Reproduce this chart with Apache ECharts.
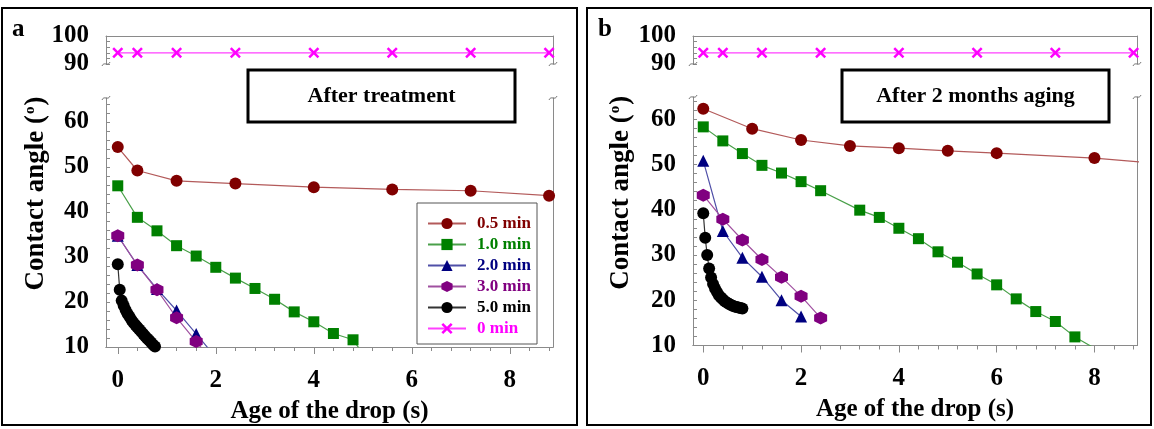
<!DOCTYPE html>
<html>
<head>
<meta charset="utf-8">
<script src="https://cdn.jsdelivr.net/npm/echarts@6/dist/echarts.min.js"></script>
<style>
html,body{margin:0;padding:0;background:#fff;}
#chart{width:1154px;height:429px;}
</style>
</head>
<body>
<div id="chart"></div>
<script>
// ---------------- data: contact angle (deg) vs age of the drop (s) ----------------
const seriesNames = ['0.5 min', '1.0 min', '2.0 min', '3.0 min', '5.0 min', '0 min'];

// (a) after treatment
const aTime05  = [0, 0.4, 1.2, 2.4, 4.0, 5.6, 7.2, 8.8];
const aAngle05 = [54.4, 49.2, 46.9, 46.3, 45.5, 45.0, 44.7, 43.6];
const aTime10  = [0, 0.4, 0.8, 1.2, 1.6, 2.0, 2.4, 2.8, 3.2, 3.6, 4.0, 4.4, 4.8, 5.2];
const aAngle10 = [45.8, 38.8, 35.8, 32.5, 30.2, 27.7, 25.3, 23.0, 20.6, 17.8, 15.6, 13.0, 11.6, 5.5];
const aTime20  = [0, 0.4, 0.8, 1.2, 1.6, 2.0];
const aAngle20 = [34.7, 28.2, 22.9, 18.1, 12.9, 7.7];
const aTime30  = [0, 0.4, 0.8, 1.2, 1.6, 2.0];
const aAngle30 = [34.7, 28.2, 22.7, 16.5, 11.2, 6.0];
const aTime50  = [0, 0.04, 0.08, 0.12, 0.16, 0.20, 0.24, 0.28, 0.32, 0.36, 0.40, 0.44, 0.48, 0.52, 0.56, 0.60, 0.64, 0.68, 0.72, 0.76];
const aAngle50 = [28.4, 22.7, 20.3, 19.2, 18.2, 17.4, 16.7, 16.0, 15.4, 14.9, 14.4, 13.9, 13.4, 12.9, 12.4, 11.9, 11.5, 11.0, 10.5, 10.1];
const aTime00  = [0, 0.4, 1.2, 2.4, 4.0, 5.6, 7.2, 8.8];
const aAngle00 = [94, 94, 94, 94, 94, 94, 94, 94];

// (b) after 2 months aging
const bTime05  = [0, 1, 2, 3, 4, 5, 6, 8, 10];
const bAngle05 = [62.3, 57.9, 55.4, 54.1, 53.6, 53.0, 52.5, 51.4, 49.6];
const bTime10  = [0, 0.4, 0.8, 1.2, 1.6, 2.0, 2.4, 3.2, 3.6, 4.0, 4.4, 4.8, 5.2, 5.6, 6.0, 6.4, 6.8, 7.2, 7.6, 8.0];
const bAngle10 = [58.3, 55.2, 52.4, 49.8, 48.1, 46.2, 44.2, 39.9, 38.3, 35.9, 33.6, 30.7, 28.4, 25.8, 23.4, 20.3, 17.5, 15.3, 11.9, 9.4];
const bTime20  = [0, 0.4, 0.8, 1.2, 1.6, 2.0];
const bAngle20 = [50.8, 35.3, 29.4, 25.2, 20.0, 16.4];
const bTime30  = [0, 0.4, 0.8, 1.2, 1.6, 2.0, 2.4];
const bAngle30 = [43.2, 37.9, 33.3, 29.0, 25.1, 20.9, 16.1];
const bTime50  = [0, 0.04, 0.08, 0.12, 0.16, 0.20, 0.24, 0.28, 0.32, 0.36, 0.40, 0.44, 0.48, 0.52, 0.56, 0.60, 0.64, 0.68, 0.72, 0.76, 0.80];
const bAngle50 = [39.2, 33.8, 30.0, 27.0, 25.0, 23.6, 22.6, 21.8, 21.1, 20.6, 20.2, 19.8, 19.5, 19.2, 19.0, 18.8, 18.6, 18.5, 18.4, 18.3, 18.2];
const bTime00  = [0, 0.4, 1.2, 2.4, 4.0, 5.6, 7.2, 8.8];
const bAngle00 = [94, 94, 94, 94, 94, 94, 94, 94];

// tick values
const xMajorTicks = [0, 2, 4, 6, 8];
const xMinorTicks = [0, 0.4, 0.8, 1.2, 1.6, 2, 2.4, 2.8, 3.2, 3.6, 4, 4.4, 4.8, 5.2, 5.6, 6, 6.4, 6.8, 7.2, 7.6, 8, 8.4, 8.8];
const yLowMajorTicks = [10, 20, 30, 40, 50, 60];
const yLowMinorTicks = [10, 12, 14, 16, 18, 20, 22, 24, 26, 28, 30, 32, 34, 36, 38, 40, 42, 44, 46, 48, 50, 52, 54, 56, 58, 60, 62, 64];
const yUpMajorTicks = [90, 100];
const yUpMinorTicks = [90, 92, 94, 96, 98, 100];

const panelTitles = ['After treatment', 'After 2 months aging'];
const panelTags = ['a', 'b'];
const xTitle = 'Age of the drop (s)';

// ---------------- styling ----------------
const FONT = '"Liberation Serif", "Times New Roman", serif';
const AX = '#8a8a8a';
const colors = ['#800000', '#008000', '#000080', '#800080', '#000000', '#ff00ff'];
const lineColors = ['#b35a5a', '#4aa04a', '#5050a8', '#a050a0', '#333333', '#ff40ff'];
const HEX = 'path://M0.5,0 L0.933,0.25 L0.933,0.75 L0.5,1 L0.067,0.75 L0.067,0.25 Z';
const XSYM = 'path://M0,0.16 L0.16,0 L0.5,0.34 L0.84,0 L1,0.16 L0.66,0.5 L1,0.84 L0.84,1 L0.5,0.66 L0.16,1 L0,0.84 L0.34,0.5 Z';
const symbols = ['circle', 'rect', 'triangle', HEX, 'circle', XSYM];
const symbolSizes = [12, 11, 12, 13, 12, 11];

const panels = [
  {left: 106, right: 553, upTop: 36, upBot: 64, lowTop: 98, lowBot: 347, x: [-0.24, 8.88], yLow: [10, 65.3],
   frame: [2, 8, 575, 417], tag: [12, 17], box: [248, 70, 267, 52], yTitleX: 36,
   data: [[aTime05, aAngle05], [aTime10, aAngle10], [aTime20, aAngle20], [aTime30, aAngle30], [aTime50, aAngle50], [aTime00, aAngle00]]},
  {left: 693, right: 1137, upTop: 36, upBot: 64, lowTop: 97, lowBot: 345.5, x: [-0.21, 8.87], yLow: [10, 64.9],
   frame: [587, 8, 564, 417], tag: [598, 17], box: [842, 70, 267, 52], yTitleX: 621,
   data: [[bTime05, bAngle05], [bTime10, bAngle10], [bTime20, bAngle20], [bTime30, bAngle30], [bTime50, bAngle50], [bTime00, bAngle00]]}
];

const grid = [], xAxis = [], yAxis = [], series = [], graphic = [];
const tickLabelStyle = {fontFamily: FONT, fontWeight: 'bold', fontSize: 25, color: '#000'};

function zip(t, v) { return t.map((x, i) => [x, v[i]]); }

panels.forEach((p, pi) => {
  const w = p.right - p.left;
  const gUp = grid.length;
  grid.push({left: p.left, top: p.upTop, width: w, height: p.upBot - p.upTop});
  const gLow = grid.length;
  grid.push({left: p.left, top: p.lowTop, width: w, height: p.lowBot - p.lowTop});

  // upper plot: frame line on top only
  const xUp = xAxis.length;
  xAxis.push({type: 'value', gridIndex: gUp, position: 'top', min: p.x[0], max: p.x[1],
    axisLine: {show: true, onZero: false, lineStyle: {color: AX}}, axisTick: {show: false},
    axisLabel: {show: false}, splitLine: {show: false}});
  // lower plot: minor and major ticks
  xAxis.push({type: 'value', gridIndex: gLow, position: 'bottom', min: p.x[0], max: p.x[1],
    axisLine: {show: true, onZero: false, lineStyle: {color: AX}},
    axisTick: {show: true, length: 4, customValues: xMinorTicks, lineStyle: {color: AX}},
    axisLabel: {show: false}, splitLine: {show: false}});
  const xLow = xAxis.length;
  xAxis.push({type: 'value', gridIndex: gLow, position: 'bottom', min: p.x[0], max: p.x[1],
    axisLine: {show: true, onZero: false, lineStyle: {color: AX}},
    axisTick: {show: true, length: 7, customValues: xMajorTicks, lineStyle: {color: AX}},
    axisLabel: Object.assign({show: true, margin: 21, customValues: xMajorTicks}, tickLabelStyle),
    splitLine: {show: false},
    name: xTitle, nameLocation: 'middle', nameGap: 52,
    nameTextStyle: {fontFamily: FONT, fontWeight: 'bold', fontSize: 25, color: '#000'}});

  const yUp = yAxis.length;
  yAxis.push({type: 'value', gridIndex: gUp, position: 'left', min: 90, max: 100,
    axisLine: {show: true, onZero: false, lineStyle: {color: AX}},
    axisTick: {show: true, inside: true, length: 4, customValues: yUpMinorTicks, lineStyle: {color: AX}},
    axisLabel: Object.assign({show: true, margin: 17, customValues: yUpMajorTicks}, tickLabelStyle),
    splitLine: {show: false}});
  yAxis.push({type: 'value', gridIndex: gUp, position: 'right', min: 90, max: 100,
    axisLine: {show: true, onZero: false, lineStyle: {color: AX}}, axisTick: {show: false},
    axisLabel: {show: false}, splitLine: {show: false}});
  const yLow = yAxis.length;
  yAxis.push({type: 'value', gridIndex: gLow, position: 'left', min: p.yLow[0], max: p.yLow[1],
    axisLine: {show: true, onZero: false, lineStyle: {color: AX}},
    axisTick: {show: true, inside: true, length: 4, customValues: yLowMinorTicks, lineStyle: {color: AX}},
    axisLabel: Object.assign({show: true, margin: 17, customValues: yLowMajorTicks}, tickLabelStyle),
    splitLine: {show: false}});
  yAxis.push({type: 'value', gridIndex: gLow, position: 'right', min: p.yLow[0], max: p.yLow[1],
    axisLine: {show: true, onZero: false, lineStyle: {color: AX}}, axisTick: {show: false},
    axisLabel: {show: false}, splitLine: {show: false}});

  p.data.forEach((d, si) => {
    const upper = si === 5;
    series.push({
      type: 'line', name: seriesNames[si],
      xAxisIndex: upper ? xUp : xLow, yAxisIndex: upper ? yUp : yLow,
      data: zip(d[0], d[1]), clip: true,
      symbol: symbols[si], symbolSize: symbolSizes[si], showAllSymbol: true,
      itemStyle: {color: colors[si]},
      lineStyle: {color: lineColors[si], width: 1.2},
      emphasis: {disabled: true}
    });
  });

  // panel frame, tag and title box
  graphic.push({type: 'rect', shape: {x: p.frame[0], y: p.frame[1], width: p.frame[2], height: p.frame[3]},
    style: {fill: 'none', stroke: '#000', lineWidth: 2}, z: 10, silent: true});
  graphic.push({type: 'text', x: p.tag[0], y: p.tag[1],
    style: {text: panelTags[pi], font: 'bold 25px ' + FONT, fill: '#000'}, z: 10, silent: true});
  graphic.push({type: 'rect', shape: {x: p.box[0], y: p.box[1], width: p.box[2], height: p.box[3]},
    style: {fill: '#fff', stroke: '#000', lineWidth: 3}, z: 10, silent: true});
  graphic.push({type: 'text', x: p.box[0] + p.box[2] / 2, y: p.box[1] + p.box[3] / 2,
    style: {text: panelTitles[pi], font: 'bold 22px ' + FONT, fill: '#000', align: 'center', verticalAlign: 'middle'},
    z: 11, silent: true});
  // y title spanning both plots
  graphic.push({type: 'text', x: p.yTitleX, y: (p.upTop + p.lowBot) / 2 + 2, rotation: Math.PI / 2,
    style: {text: '{m|Contact angle (}{s|o}{m|)}', align: 'center', verticalAlign: 'middle',
      rich: {m: {fontFamily: FONT, fontWeight: 'bold', fontSize: 27, fill: '#000'},
             s: {fontFamily: FONT, fontWeight: 'bold', fontSize: 15, fill: '#000', verticalAlign: 'top', padding: [0, 1, 12, 1]}}},
    z: 10, silent: true});
  // axis-break marks
  [[p.left, p.upBot], [p.right, p.upBot], [p.left, p.lowTop], [p.right, p.lowTop]].forEach(c => {
    graphic.push({type: 'bezierCurve',
      shape: {x1: c[0] - 4, y1: c[1] + 2, cpx1: c[0] - 2, cpy1: c[1] - 3, cpx2: c[0] + 2, cpy2: c[1] + 3, x2: c[0] + 4, y2: c[1] - 2},
      style: {fill: 'none', stroke: '#777', lineWidth: 1}, z: 10, silent: true});
  });
});

// legend frame (panel a)
graphic.push({type: 'rect', shape: {x: 417, y: 203, width: 120, height: 141},
  style: {fill: '#fff', stroke: '#555', lineWidth: 1}, z: 3, silent: true});

const option = {
  animation: false,
  backgroundColor: '#fff',
  grid, xAxis, yAxis, series, graphic,
  legend: {
    orient: 'vertical', left: 422, top: 210, itemWidth: 38, itemHeight: 14, itemGap: 4,
    selectedMode: false, z: 5,
    data: seriesNames.map((n, i) => ({name: n,
      textStyle: {color: colors[i], fontFamily: FONT, fontWeight: 'bold', fontSize: 17, padding: [0, 0, 0, 6]}}))
  }
};

const chart = echarts.init(document.getElementById('chart'), null, {renderer: 'canvas'});
chart.setOption(option);
</script>
</body>
</html>
